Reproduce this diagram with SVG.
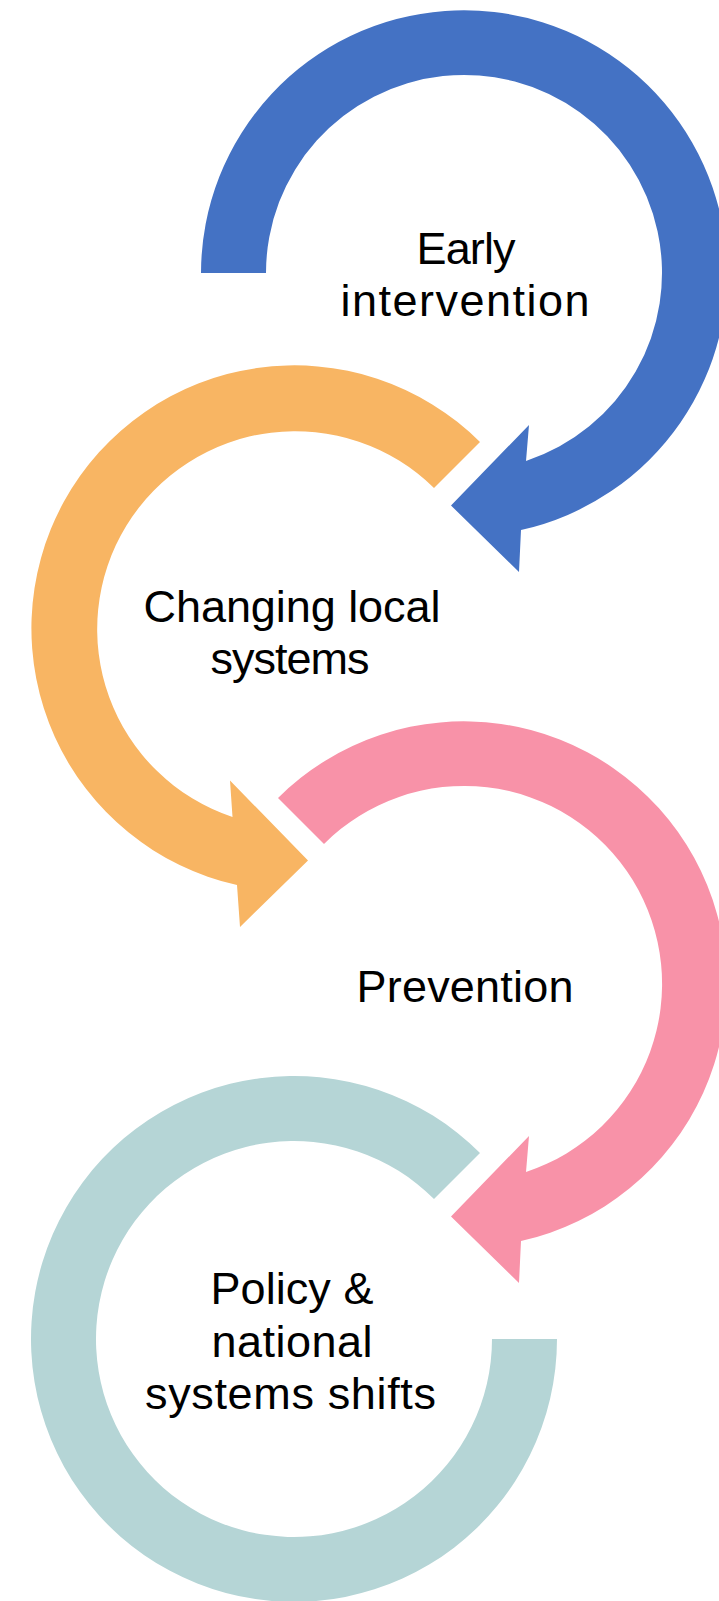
<svg xmlns="http://www.w3.org/2000/svg" width="719" height="1601" viewBox="0 0 719 1601">
  <style>
    .lbl { font-family: "Liberation Sans", Arial, sans-serif; font-size: 45px; fill: #000000; text-anchor: middle; }
    .blue { fill: #4472C4; }
    .orange { fill: #F8B563; }
    .pink { fill: #F892A8; }
    .teal { fill: #B5D5D6; }
  </style>
  <rect x="0" y="0" width="719" height="1601" fill="#FFFFFF"/>
  <g id="connectors"></g>
  <g id="node-early-intervention">
    <path class="blue" d="M 201 273 A 263 263 0 1 1 521 530 L 519 572 L 451 505.5 L 529 425 L 526 461 A 198 198 0 1 0 266 273 Z"/>
    <text class="lbl" x="466" y="263.5" textLength="99" lengthAdjust="spacing">Early</text>
    <text class="lbl" x="465" y="316" textLength="249" lengthAdjust="spacing">intervention</text>
  </g>
  <g id="node-changing-local-systems">
    <path class="orange" d="M 480 442 A 263 263 0 1 0 237 885 L 240 927 L 308 860.5 L 230 780.5 L 232.5 817 A 198 198 0 1 1 434 488 Z"/>
    <text class="lbl" x="292" y="622" textLength="297" lengthAdjust="spacing">Changing local</text>
    <text class="lbl" x="290" y="674" textLength="159" lengthAdjust="spacing">systems</text>
  </g>
  <g id="node-prevention">
    <path class="pink" d="M 278 798 A 263 263 0 1 1 521 1241 L 519 1283 L 451 1216.5 L 529 1136 L 526 1172 A 198 198 0 1 0 324 844 Z"/>
    <text class="lbl" x="465" y="1001.5" textLength="217" lengthAdjust="spacing">Prevention</text>
  </g>
  <g id="node-policy-national-systems-shifts">
    <path class="teal" d="M 480 1153 A 263 263 0 1 0 557 1339 L 492 1339 A 198 198 0 1 1 434 1199 Z"/>
    <text class="lbl" x="292" y="1303.5" textLength="163" lengthAdjust="spacing">Policy &amp;</text>
    <text class="lbl" x="292" y="1356.5" textLength="161" lengthAdjust="spacing">national</text>
    <text class="lbl" x="290.5" y="1409" textLength="291" lengthAdjust="spacing">systems shifts</text>
  </g>
</svg>
